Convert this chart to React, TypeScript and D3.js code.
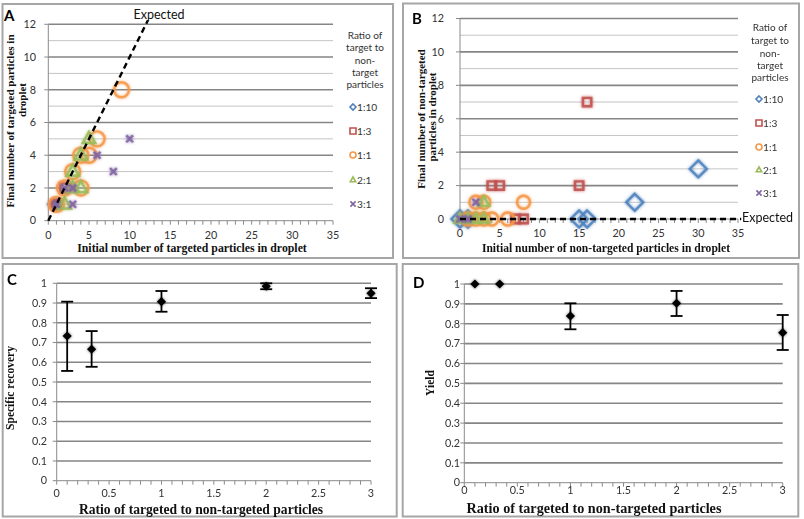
import React from 'react';
import * as d3 from 'd3';

type Pt = [number, number];

// Panel A: (initial, final) number of targeted particles per droplet, by ratio
const aTen: Pt[] = [[1, 1], [0.6, 1]];
const aThird: Pt[] = [[1, 1], [2, 2]];
const aOne: Pt[] = [[1, 1], [2, 2], [3, 3], [4, 2], [4, 4], [5, 4], [6, 5], [9, 8]];
const aTwo: Pt[] = [[2, 1], [3, 2], [3, 3], [4, 2], [4, 4], [5, 5]];
const aThree: Pt[] = [[1, 1], [2, 2], [3, 1], [3, 2], [6, 4], [8, 3], [10, 5]];

// Panel B: (initial, final) number of non-targeted particles per droplet, by ratio
const bTen: Pt[] = [[0, 0], [1, 0], [15, 0], [16, 0], [22, 1], [30, 3]];
const bThird: Pt[] = [[1, 0], [4, 2], [5, 2], [7, 0], [8, 0], [15, 2], [16, 7]];
const bOne: Pt[] = [[1, 0], [2, 0], [2, 1], [3, 0], [3, 1], [4, 0], [6, 0], [8, 1]];
const bTwo: Pt[] = [[0, 0], [1, 0], [2, 0], [3, 0], [3, 1]];
const bThree: Pt[] = [[0, 0], [1, 0], [2, 1]];

const ratioNames = ['1:10', '1:3', '1:1', '2:1', '3:1'];
const ratioColors = ['#4F81BD', '#C0504D', '#F79646', '#9BBB59', '#8064A2'];
const ratioShapes = ['diamond', 'square', 'circle', 'triangle', 'cross'];
const legendHeader = ['Ratio of', 'target to', 'non-', 'target', 'particles'];

const countXTicks = [0, 5, 10, 15, 20, 25, 30, 35];
const countYTicks = [0, 2, 4, 6, 8, 10, 12];

// Panels C and D: mean with error range per ratio of targeted to non-targeted
const ratioX = [0.1, 1 / 3, 1, 2, 3];
const recoveryMean = [0.733, 0.666, 0.907, 0.985, 0.949];
const recoveryLow = [0.556, 0.577, 0.856, 0.97, 0.925];
const recoveryHigh = [0.907, 0.758, 0.961, 1.0, 0.975];
const yieldMean = [1, 1, 0.839, 0.903, 0.755];
const yieldLow = [1, 1, 0.772, 0.839, 0.668];
const yieldHigh = [1, 1, 0.903, 0.965, 0.844];

const ratioXTicks = [0, 0.5, 1, 1.5, 2, 2.5, 3];
const fractionYTicks = [0, 0.1, 0.2, 0.3, 0.4, 0.5, 0.6, 0.7, 0.8, 0.9, 1];

const SANS = 'Lato, "Open Sans", sans-serif';
const SERIF = '"Liberation Serif", "DejaVu Serif", serif';
const GRID_DARK = '#858585';
const GRID_LIGHT = '#c4c4c4';
const AXIS = '#8a8a8a';
const BORDER = '#a6a6a6';

function markerPath(shape: string, r: number): string {
  const p = d3.path();
  if (shape === 'diamond') {
    p.moveTo(0, -r); p.lineTo(r, 0); p.lineTo(0, r); p.lineTo(-r, 0); p.closePath();
  } else if (shape === 'square') {
    p.rect(-r, -r, 2 * r, 2 * r);
  } else if (shape === 'circle') {
    p.moveTo(r, 0); p.arc(0, 0, r, 0, Math.PI * 2);
  } else if (shape === 'triangle') {
    p.moveTo(0, -r); p.lineTo(r * 0.9, r * 0.6); p.lineTo(-r * 0.9, r * 0.6); p.closePath();
  } else {
    p.moveTo(-r, -r); p.lineTo(r, r); p.moveTo(r, -r); p.lineTo(-r, r);
  }
  return p.toString();
}

type Box = { x: number; y: number; w: number; h: number };

function Border({ b }: { b: Box }) {
  return <rect x={b.x} y={b.y} width={b.w} height={b.h} fill="#fff" stroke={BORDER} strokeWidth={2} />;
}

type ScatterProps = {
  box: Box;
  letter: string;
  letterPos: [number, number];
  xRange: [number, number];
  yRange: [number, number];
  series: Pt[][];
  sizes: number[];
  yTitle: { text: string; x: number; y: number }[];
  xTitle: { text: string; x: number; y: number; size: number };
  yLabelX: number;
  xLabelY: number;
  expected: 'diagonal' | 'flat';
  expectedLabel: [number, number];
  legendX: number;
  legendHeaderY: number[];
  legendY: number[];
  legendMarkerX: number;
};

function ScatterPanel(pr: ScatterProps) {
  const x = d3.scaleLinear().domain([0, 35]).range(pr.xRange);
  const y = d3.scaleLinear().domain([0, 12]).range(pr.yRange);
  const minor = d3.range(1, 13);
  const xMinor = d3.range(0, 36);
  const line = d3.line<Pt>().x(d => x(d[0])).y(d => y(d[1]));
  const expectedPts: Pt[] = pr.expected === 'diagonal' ? [[0, 0], [12.25, 12.25]] : [[0, 0], [35.4, 0]];
  return (
    <g>
      <Border b={pr.box} />
      {minor.map(v => (
        <line key={'g' + v} x1={x(0)} x2={x(35)} y1={y(v)} y2={y(v)}
          stroke={v % 2 === 0 ? GRID_DARK : GRID_LIGHT} strokeWidth={v % 2 === 0 ? 1.6 : 1} />
      ))}
      <line x1={x(0)} x2={x(0)} y1={y(0)} y2={y(12)} stroke={AXIS} strokeWidth={1} />
      <line x1={x(0)} x2={x(35)} y1={y(0)} y2={y(0)} stroke={AXIS} strokeWidth={1} />
      {countYTicks.map(v => (
        <line key={'yt' + v} x1={x(0) - 4} x2={x(0)} y1={y(v)} y2={y(v)} stroke={AXIS} />
      ))}
      {xMinor.map(v => (
        <line key={'xt' + v} x1={x(v)} x2={x(v)} y1={y(0)} y2={y(0) + 4} stroke={AXIS} />
      ))}
      {countYTicks.map(v => (
        <text key={'yl' + v} x={pr.yLabelX} y={y(v)} dy="0.35em" textAnchor="end"
          fontFamily={SANS} fontSize={10.8} fill="#333">{v}</text>
      ))}
      {countXTicks.map(v => (
        <text key={'xl' + v} x={x(v)} y={pr.xLabelY} dy="0.35em" textAnchor="middle"
          fontFamily={SANS} fontSize={10.8} fill="#333">{v}</text>
      ))}
      {pr.series.map((pts, si) => (
        <g key={'s' + si} filter="url(#glow)">
          {pts.map((d, i) => (
            <path key={i} d={markerPath(ratioShapes[si], pr.sizes[si])}
              transform={`translate(${x(d[0])},${y(d[1])})`}
              fill="none" stroke={ratioColors[si]} strokeWidth={2.4} strokeOpacity={0.85} />
          ))}
        </g>
      ))}
      <path d={line(expectedPts) || ''} fill="none" stroke="#000" strokeWidth={2.4} strokeDasharray="6,4" />
      <text x={pr.expectedLabel[0]} y={pr.expectedLabel[1]} dy="0.35em" fontFamily={SANS} fontSize={12.5} fill="#111"
        textAnchor={pr.expected === 'diagonal' ? 'middle' : 'start'}>Expected</text>
      {pr.yTitle.map((t, i) => (
        <text key={'yt' + i} transform={`translate(${t.x},${t.y}) rotate(-90)`} textAnchor="middle" dy="0.35em"
          fontFamily={SERIF} fontWeight="bold" fontSize={11} fill="#111">{t.text}</text>
      ))}
      <text x={pr.xTitle.x} y={pr.xTitle.y} dy="0.35em" textAnchor="middle"
        fontFamily={SERIF} fontWeight="bold" fontSize={pr.xTitle.size} fill="#111">{pr.xTitle.text}</text>
      {legendHeader.map((t, i) => (
        <text key={'lh' + i} x={pr.legendX} y={pr.legendHeaderY[i]} dy="0.35em" textAnchor="middle"
          fontFamily={SANS} fontSize={10} fill="#333">{t}</text>
      ))}
      {ratioNames.map((n, i) => (
        <g key={'le' + i}>
          <path d={markerPath(ratioShapes[i], i === 4 ? 2.6 : 3)}
            transform={`translate(${pr.legendMarkerX},${pr.legendY[i]})`}
            fill="none" stroke={ratioColors[i]} strokeWidth={1.6} />
          <text x={pr.legendMarkerX + 4} y={pr.legendY[i]} dy="0.35em" fontFamily={SANS} fontSize={10.2}
            fill="#333">{n}</text>
        </g>
      ))}
      <text x={pr.letterPos[0]} y={pr.letterPos[1]} fontFamily={SANS} fontWeight="bold" fontSize={15} fill="#000">{pr.letter}</text>
    </g>
  );
}

type ErrorProps = {
  box: Box;
  letter: string;
  letterPos: [number, number];
  xRange: [number, number];
  yRange: [number, number];
  mean: number[];
  low: number[];
  high: number[];
  yTitle: { text: string; x: number; y: number };
  xTitle: { text: string; x: number; y: number; size: number };
  yLabelX: number;
  xLabelY: number;
};

function ErrorPanel(pr: ErrorProps) {
  const x = d3.scaleLinear().domain([0, 3]).range(pr.xRange);
  const y = d3.scaleLinear().domain([0, 1]).range(pr.yRange);
  const fmt = d3.format('~g');
  const xMinor = d3.range(0, 31).map(i => i / 10);
  return (
    <g>
      <Border b={pr.box} />
      {fractionYTicks.slice(1).map(v => (
        <line key={'g' + v} x1={x(0)} x2={x(3)} y1={y(v)} y2={y(v)} stroke={GRID_DARK} strokeWidth={1.6} />
      ))}
      <line x1={x(0)} x2={x(0)} y1={y(0)} y2={y(1)} stroke={AXIS} />
      <line x1={x(0)} x2={x(3)} y1={y(0)} y2={y(0)} stroke={AXIS} />
      {fractionYTicks.map(v => (
        <line key={'yt' + v} x1={x(0) - 4} x2={x(0)} y1={y(v)} y2={y(v)} stroke={AXIS} />
      ))}
      {xMinor.map(v => (
        <line key={'xt' + v} x1={x(v)} x2={x(v)} y1={y(0)} y2={y(0) + 4} stroke={AXIS} />
      ))}
      {fractionYTicks.map(v => (
        <text key={'yl' + v} x={pr.yLabelX} y={y(v)} dy="0.35em" textAnchor="end"
          fontFamily={SANS} fontSize={10.8} fill="#333">{fmt(v)}</text>
      ))}
      {ratioXTicks.map(v => (
        <text key={'xl' + v} x={x(v)} y={pr.xLabelY} dy="0.35em" textAnchor="middle"
          fontFamily={SANS} fontSize={10.8} fill="#333">{fmt(v)}</text>
      ))}
      {ratioX.map((rx, i) => (
        <g key={'e' + i}>
          {pr.high[i] > pr.low[i] && (
            <g stroke="#000" strokeWidth={1.8}>
              <line x1={x(rx)} x2={x(rx)} y1={y(pr.low[i])} y2={y(pr.high[i])} />
              <line x1={x(rx) - 6} x2={x(rx) + 6} y1={y(pr.low[i])} y2={y(pr.low[i])} />
              <line x1={x(rx) - 6} x2={x(rx) + 6} y1={y(pr.high[i])} y2={y(pr.high[i])} />
            </g>
          )}
          <path d={markerPath('diamond', 4.6)} transform={`translate(${x(rx)},${y(pr.mean[i])})`}
            fill="#000" filter="url(#shadow)" />
        </g>
      ))}
      <text transform={`translate(${pr.yTitle.x},${pr.yTitle.y}) rotate(-90)`} textAnchor="middle" dy="0.35em"
        fontFamily={SERIF} fontWeight="bold" fontSize={11.5} fill="#111">{pr.yTitle.text}</text>
      <text x={pr.xTitle.x} y={pr.xTitle.y} dy="0.35em" textAnchor="middle"
        fontFamily={SERIF} fontWeight="bold" fontSize={pr.xTitle.size} fill="#111">{pr.xTitle.text}</text>
      <text x={pr.letterPos[0]} y={pr.letterPos[1]} fontFamily={SANS} fontWeight="bold" fontSize={15} fill="#000">{pr.letter}</text>
    </g>
  );
}

export default function App() {
  return (
    <svg width={804} height={519} style={{ position: 'absolute', left: 0, top: 0, background: '#fff' }}>
      <defs>
        <filter id="glow" x="-60%" y="-60%" width="220%" height="220%">
          <feGaussianBlur in="SourceGraphic" stdDeviation="1.4" result="b" />
          <feMerge>
            <feMergeNode in="b" />
            <feMergeNode in="SourceGraphic" />
          </feMerge>
        </filter>
        <filter id="shadow" x="-80%" y="-80%" width="260%" height="260%">
          <feGaussianBlur in="SourceAlpha" stdDeviation="1.8" result="b" />
          <feComponentTransfer in="b" result="s">
            <feFuncA type="linear" slope="0.55" />
          </feComponentTransfer>
          <feMerge>
            <feMergeNode in="s" />
            <feMergeNode in="SourceGraphic" />
          </feMerge>
        </filter>
      </defs>
      <rect width={804} height={519} fill="#fff" />
      <ScatterPanel
        box={{ x: 2.5, y: 4, w: 390.5, h: 254 }}
        letter="A" letterPos={[4, 21]}
        xRange={[48.3, 333]} yRange={[220.7, 24.3]}
        series={[aTen, aThird, aOne, aTwo, aThree]}
        sizes={[5, 4.5, 7.5, 7, 3.4]}
        yTitle={[
          { text: 'Final number of targeted particles in', x: 10, y: 121 },
          { text: 'droplet', x: 22.5, y: 100 },
        ]}
        xTitle={{ text: 'Initial number of targeted particles in droplet', x: 192, y: 248, size: 11.8 }}
        yLabelX={36} xLabelY={235}
        expected="diagonal" expectedLabel={[159, 15]}
        legendX={365} legendHeaderY={[35, 47, 60, 72, 84]} legendY={[107, 131, 155, 180, 204]}
        legendMarkerX={353}
      />
      <ScatterPanel
        box={{ x: 403, y: 3.5, w: 396, h: 254.5 }}
        letter="B" letterPos={[412, 24]}
        xRange={[460, 738]} yRange={[219, 18.5]}
        series={[bTen, bThird, bOne, bTwo, bThree]}
        sizes={[8.5, 4.2, 6.5, 6, 3.4]}
        yTitle={[
          { text: 'Final number of non-targeted', x: 421, y: 119 },
          { text: 'particles  in droplet', x: 432, y: 117 },
        ]}
        xTitle={{ text: 'Initial number of non-targeted particles in droplet', x: 606, y: 248, size: 11.6 }}
        yLabelX={444} xLabelY={233}
        expected="flat" expectedLabel={[742, 218]}
        legendX={770} legendHeaderY={[27, 40, 53, 65, 77]} legendY={[99, 123, 147, 170, 193]}
        legendMarkerX={759}
      />
      <ErrorPanel
        box={{ x: 2.7, y: 264, w: 394, h: 252.5 }}
        letter="C" letterPos={[7, 285]}
        xRange={[56.7, 371]} yRange={[480.7, 283.3]}
        mean={recoveryMean} low={recoveryLow} high={recoveryHigh}
        yTitle={{ text: 'Specific recovery', x: 10, y: 388 }}
        xTitle={{ text: 'Ratio of targeted to non-targeted particles', x: 201, y: 509, size: 13.6 }}
        yLabelX={47} xLabelY={493}
      />
      <ErrorPanel
        box={{ x: 402.7, y: 264, w: 395.6, h: 252.5 }}
        letter="D" letterPos={[413, 288]}
        xRange={[464.3, 782.7]} yRange={[482.7, 284]}
        mean={yieldMean} low={yieldLow} high={yieldHigh}
        yTitle={{ text: 'Yield', x: 430, y: 383 }}
        xTitle={{ text: 'Ratio of targeted to non-targeted particles', x: 594, y: 508, size: 14.2 }}
        yLabelX={460} xLabelY={490}
      />
    </svg>
  );
}
